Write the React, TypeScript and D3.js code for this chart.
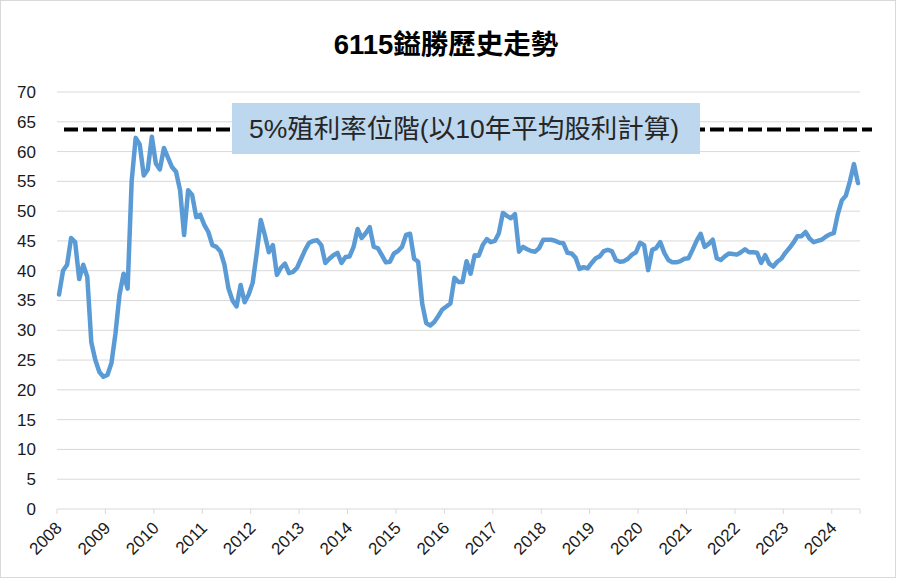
import React from "react";
import * as d3 from "d3";

// chart data (monthly close, Jan 2008 - Jul 2024)
const years = [
  "2008", "2009", "2010", "2011", "2012", "2013", "2014", "2015", "2016",
  "2017", "2018", "2019", "2020", "2021", "2022", "2023", "2024",
];

const monthlyPrice = [
  36, 40, 41, 45.5, 44.8, 38.6, 41, 39, 28, 25, 23, 22.2, // 2008
  22.5, 24.5, 29.5, 36, 39.5, 37, 55, 62.3, 61.2, 56, 57, 62.5, // 2009
  58, 57, 60.6, 59, 57.4, 56.6, 53.5, 46, 53.5, 52.7, 49, 49.4, // 2010
  47.7, 46.5, 44.3, 44, 43.2, 41, 37, 35, 34, 37.6, 34.7, 36, // 2011
  38, 43, 48.5, 46, 43.1, 44.3, 39.3, 40.5, 41.2, 39.6, 39.8, 40.5, // 2012
  42, 43.5, 44.7, 45, 45.1, 44.3, 41.3, 42, 42.6, 43, 41.3, 42.3, // 2013
  42.4, 44, 47, 45.5, 46.3, 47.3, 44, 43.8, 42.6, 41.4, 41.5, 42.9, // 2014
  43.3, 44, 46, 46.2, 42, 41.5, 34.5, 31.2, 30.8, 31.4, 32.4, 33.5, // 2015
  34, 34.5, 38.8, 38.1, 38.1, 41.6, 39.5, 42.6, 42.5, 44.3, 45.3, 44.8, // 2016
  45, 46.3, 49.7, 49.2, 48.8, 49.5, 43.2, 44, 43.6, 43.3, 43.2, 43.8, // 2017
  45.2, 45.2, 45.2, 45, 44.7, 44.6, 43, 42.9, 42.2, 40.3, 40.6, 40.4, // 2018
  41.3, 42.1, 42.4, 43.3, 43.5, 43.3, 41.8, 41.5, 41.6, 42, 42.7, 43.1, // 2019
  44.7, 44.3, 40.1, 43.5, 43.8, 44.8, 43, 41.8, 41.4, 41.4, 41.6, 42, // 2020
  42.1, 43.5, 45, 46.2, 44, 44.5, 45.2, 42.1, 41.8, 42.4, 42.9, 42.8, // 2021
  42.7, 43.1, 43.6, 43.1, 43.1, 43, 41.3, 42.6, 41.2, 40.7, 41.5, 42, // 2022
  43, 43.8, 44.7, 45.8, 45.8, 46.5, 45.4, 44.8, 45, 45.2, 45.7, 46.1, // 2023
  46.3, 49.5, 51.8, 52.6, 55, 57.9, 54.7, // 2024
];

const yTicks = [0, 5, 10, 15, 20, 25, 30, 35, 40, 45, 50, 55, 60, 65, 70];
const yieldLevel = 63.7;
const title = "6115鎰勝歷史走勢";
const levelLabel = "5%殖利率位階(以10年平均股利計算)";

const months = monthlyPrice.map(
  (_, i) => `${+years[0] + Math.floor(i / 12)}-${String((i % 12) + 1).padStart(2, "0")}`
);

const W = 897;
const H = 579;
const plot = { left: 57, right: 860, top: 92, bottom: 509 };
const latin = "'Liberation Sans', Arial, 'Noto Sans CJK TC', sans-serif";

export default function App() {
  const x = d3
    .scaleBand<string>()
    .domain(months)
    .range([plot.left, plot.right])
    .padding(0);
  const y = d3.scaleLinear().domain([0, 70]).range([plot.bottom, plot.top]);

  const line = d3
    .line<number>()
    .x((_, i) => (x(months[i]) || 0) + x.bandwidth() / 2)
    .y((d) => y(d));

  const yearX = (yr: string) => x(`${yr}-01`) || 0;

  return (
    <svg
      width={W}
      height={H}
      style={{ position: "absolute", left: 0, top: 0, background: "#fff" }}
    >
      <rect x={0.5} y={0.5} width={895} height={577} fill="#fff" stroke="#d9d9d9" />

      <text
        x={446}
        y={54}
        textAnchor="middle"
        fontFamily={latin}
        fontWeight="bold"
        fontSize={27.5}
        fill="#000"
      >
        {title}
      </text>

      {/* grid */}
      {yTicks.map((t) => (
        <g key={t}>
          <line
            x1={plot.left}
            x2={plot.right}
            y1={y(t)}
            y2={y(t)}
            stroke="#d9d9d9"
            strokeWidth={1}
          />
          <text
            x={36}
            y={y(t)}
            dy="0.35em"
            textAnchor="end"
            fontFamily={latin}
            fontSize={17}
            fill="#1a1a1a"
          >
            {t}
          </text>
        </g>
      ))}

      {/* x axis ticks + labels */}
      {years.map((yr) => (
        <g key={yr}>
          <line
            x1={yearX(yr)}
            x2={yearX(yr)}
            y1={plot.bottom}
            y2={plot.bottom + 5}
            stroke="#d9d9d9"
          />
          <text
            transform={`translate(${yearX(yr) + 6},${plot.bottom + 20}) rotate(-45)`}
            textAnchor="end"
            fontFamily={latin}
            fontSize={17}
            fill="#1a1a1a"
          >
            {yr}
          </text>
        </g>
      ))}
      <line
        x1={plot.right}
        x2={plot.right}
        y1={plot.bottom}
        y2={plot.bottom + 5}
        stroke="#d9d9d9"
      />

      {/* yield level */}
      <line
        x1={64}
        x2={872}
        y1={y(yieldLevel)}
        y2={y(yieldLevel)}
        stroke="#000"
        strokeWidth={4}
        strokeDasharray="14 5"
      />

      <path
        d={line(monthlyPrice) || ""}
        fill="none"
        stroke="#5b9bd5"
        strokeWidth={4.5}
        strokeLinejoin="round"
        strokeLinecap="round"
      />

      <rect x={232} y={103} width={468} height={51} fill="#bdd7ee" />
      <text
        x={464}
        y={129}
        dy="0.35em"
        textAnchor="middle"
        fontFamily={latin}
        fontSize={26.5}
        fill="#262626"
      >
        {levelLabel}
      </text>
    </svg>
  );
}
